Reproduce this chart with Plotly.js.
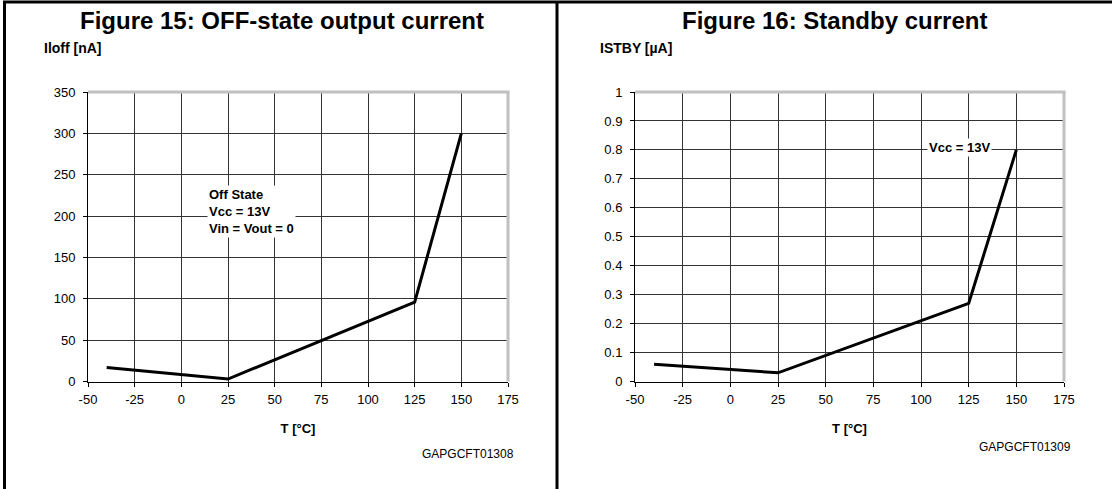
<!DOCTYPE html>
<html>
<head>
<meta charset="utf-8">
<script src="https://cdn.plot.ly/plotly-3.0.1.min.js"></script>
<style>
html,body{margin:0;padding:0;background:#fff;}
#chart{width:1112px;height:489px;}
</style>
</head>
<body>
<div id="chart"></div>
<script>
// Data
const tempOff = [-40, 25, 125, 150];
const iOff = [17, 3, 96, 300];          // nA
const tempStby = [-40, 25, 125, 150];
const iStby = [0.06, 0.03, 0.27, 0.8];  // µA
const xTicks = [-50, -25, 0, 25, 50, 75, 100, 125, 150, 175];
const yTicksOff = [0, 50, 100, 150, 200, 250, 300, 350];
const yTicksStby = [0, 0.1, 0.2, 0.3, 0.4, 0.5, 0.6, 0.7, 0.8, 0.9, 1];

const FONT = 'Arial, "Liberation Sans", sans-serif';
const W = 1112, H = 489;
const px = v => v / W;
const py = v => 1 - v / H;

const xDomL = [px(88), px(508)];
const xDomR = [px(635), px(1064)];
const yDom = [py(381.5), py(92)];

const traces = [
  {x: tempOff, y: iOff, type: 'scatter', mode: 'lines', xaxis: 'x', yaxis: 'y',
   line: {color: '#000', width: 3}, hoverinfo: 'skip'},
  {x: tempStby, y: iStby, type: 'scatter', mode: 'lines', xaxis: 'x2', yaxis: 'y2',
   line: {color: '#000', width: 3}, hoverinfo: 'skip'}
];

function xAxis(domain, anchor) {
  return {
    domain: domain, anchor: anchor, range: [-50, 175],
    tickvals: xTicks, ticktext: xTicks.map(String),
    showgrid: true, gridcolor: '#333333', gridwidth: 1,
    showline: true, linecolor: '#000', linewidth: 1,
    ticks: 'outside', ticklen: 4, tickcolor: '#000',
    ticklabelstandoff: 2,
    zeroline: false, fixedrange: true,
    tickfont: {family: FONT, size: 13, color: '#000'},
    title: {text: '<b>T [°C]</b>', font: {family: FONT, size: 13, color: '#000'}, standoff: 17}
  };
}
function yAxis(domain, anchor, range, ticks) {
  return {
    domain: domain, anchor: anchor, range: range,
    tickvals: ticks, ticktext: ticks.map(String),
    showgrid: true, gridcolor: '#333333', gridwidth: 1,
    showline: true, linecolor: '#000', linewidth: 1,
    ticks: 'outside', ticklen: 4, tickcolor: '#000',
    ticklabelstandoff: 5,
    zeroline: false, fixedrange: true,
    tickfont: {family: FONT, size: 13, color: '#000'}
  };
}

const frame = {type: 'line', xref: 'paper', yref: 'paper', line: {color: '#000', width: 3}};
const gray = {type: 'line', xref: 'paper', yref: 'paper', line: {color: '#c0c0c0', width: 3}};

const layout = {
  width: W, height: H,
  margin: {l: 0, r: 0, t: 0, b: 0},
  paper_bgcolor: '#fff', plot_bgcolor: '#fff',
  showlegend: false,
  xaxis: xAxis(xDomL, 'y'),
  yaxis: yAxis(yDom, 'x', [0, 350], yTicksOff),
  xaxis2: xAxis(xDomR, 'y2'),
  yaxis2: yAxis(yDom, 'x2', [0, 1], yTicksStby),
  shapes: [
    Object.assign({x0: px(3), x1: 1, y0: py(2), y1: py(2)}, frame),
    Object.assign({x0: px(4.5), x1: px(4.5), y0: py(1), y1: 0}, frame),
    Object.assign({x0: px(557), x1: px(557), y0: py(1), y1: 0}, frame),
    Object.assign({x0: xDomL[0], x1: xDomL[1] + px(1.5), y0: yDom[1], y1: yDom[1]}, gray),
    Object.assign({x0: xDomL[1], x1: xDomL[1], y0: yDom[0], y1: yDom[1]}, gray),
    Object.assign({x0: xDomR[0], x1: xDomR[1] + px(1.5), y0: yDom[1], y1: yDom[1]}, gray),
    Object.assign({x0: xDomR[1], x1: xDomR[1], y0: yDom[0], y1: yDom[1]}, gray)
  ],
  annotations: [
    {text: '<b>Figure 15: OFF-state output current</b>', xref: 'paper', yref: 'paper',
     x: px(282), y: py(20), xanchor: 'center', yanchor: 'middle', showarrow: false,
     font: {family: FONT, size: 24, color: '#000'}},
    {text: '<b>Figure 16: Standby current</b>', xref: 'paper', yref: 'paper',
     x: px(834), y: py(20), xanchor: 'center', yanchor: 'middle', showarrow: false,
     font: {family: FONT, size: 24, color: '#000'}},
    {text: '<b>Iloff [nA]</b>', xref: 'paper', yref: 'paper', x: px(42), y: py(48),
     xanchor: 'left', yanchor: 'middle', showarrow: false, font: {family: FONT, size: 14, color: '#000'}},
    {text: '<b>ISTBY [µA]</b>', xref: 'paper', yref: 'paper', x: px(598), y: py(48),
     xanchor: 'left', yanchor: 'middle', showarrow: false, font: {family: FONT, size: 14, color: '#000'}},
    {text: 'GAPGCFT01308', xref: 'paper', yref: 'paper', x: px(516), y: py(454),
     xanchor: 'right', yanchor: 'middle', showarrow: false, font: {family: FONT, size: 12, color: '#000'}},
    {text: 'GAPGCFT01309', xref: 'paper', yref: 'paper', x: px(1073), y: py(447),
     xanchor: 'right', yanchor: 'middle', showarrow: false, font: {family: FONT, size: 12, color: '#000'}},
    {text: '<b>Off State<br>Vcc = 13V<br>Vin = Vout = 0</b>', xref: 'x', yref: 'y',
     x: 14, y: 205, xanchor: 'left', yanchor: 'middle', align: 'left', showarrow: false, bgcolor: '#fff',
     font: {family: FONT, size: 13, color: '#000'}},
    {text: '<b>Vcc = 13V</b>', xref: 'x2', yref: 'y2', x: 120, y: 0.8, yshift: 2,
     xanchor: 'center', yanchor: 'middle',
     showarrow: false, bgcolor: '#fff', font: {family: FONT, size: 13, color: '#000'}}
  ]
};

Plotly.newPlot('chart', traces, layout, {staticPlot: true, displayModeBar: false});
</script>
</body>
</html>
